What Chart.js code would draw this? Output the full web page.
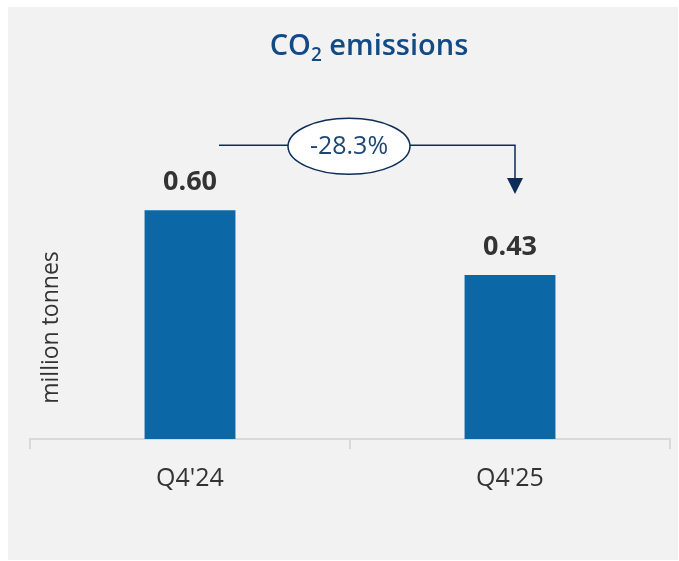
<!DOCTYPE html>
<html>
<head>
<meta charset="utf-8">
<script src="https://cdn.jsdelivr.net/npm/chart.js@4"></script>
<style>
  html, body { margin: 0; padding: 0; background: #ffffff; }
  #wrap { width: 679px; height: 561px; position: relative; }
</style>
</head>
<body>
<div id="wrap"><canvas id="c" width="679" height="561"></canvas></div>
<script>
const categories = ["Q4'24", "Q4'25"];
const emissions = [0.60, 0.43];
const valueLabels = ["0.60", "0.43"];
const changeLabel = "-28.3%";
const yAxisTitle = "million tonnes";
const titleMain = "CO";
const titleSub = "2";
const titleRest = " emissions";

const FONT = "'Open Sans', 'Noto Sans', sans-serif";

const decorPlugin = {
  id: 'decor',
  beforeDraw(chart) {
    const ctx = chart.ctx;
    ctx.save();
    ctx.fillStyle = '#f2f2f2';
    ctx.fillRect(8, 7, 670, 553);
    ctx.restore();
  },
  afterDraw(chart) {
    const ctx = chart.ctx;
    const area = chart.chartArea;
    const meta = chart.getDatasetMeta(0);
    const b1 = meta.data[0], b2 = meta.data[1];
    ctx.save();

    // Title
    ctx.fillStyle = '#114a86';
    ctx.textBaseline = 'alphabetic';
    ctx.font = `600 29px ${FONT}`;
    const wMain = ctx.measureText(titleMain).width;
    const wRest = ctx.measureText(titleRest).width;
    ctx.font = `600 19px ${FONT}`;
    const wSub = ctx.measureText(titleSub).width;
    const totalW = wMain + wSub + wRest;
    const cx = (area.left + area.right) / 2 + 19;
    let x = cx - totalW / 2;
    const base = 55;
    ctx.textAlign = 'left';
    ctx.font = `600 29px ${FONT}`;
    ctx.fillText(titleMain, x, base);
    x += wMain;
    ctx.font = `600 19px ${FONT}`;
    ctx.fillText(titleSub, x, base + 6);
    x += wSub;
    ctx.font = `600 29px ${FONT}`;
    ctx.fillText(titleRest, x, base);

    // Value labels
    ctx.fillStyle = '#333333';
    ctx.font = `bold 27px ${FONT}`;
    ctx.textAlign = 'center';
    ctx.textBaseline = 'middle';
    meta.data.forEach((bar, i) => {
      ctx.fillText(valueLabels[i], bar.x, bar.y - 28);
    });

    // Y axis title
    ctx.save();
    ctx.translate(51, (area.top + area.bottom) / 2 + 60);
    ctx.rotate(-Math.PI / 2);
    ctx.font = `23px ${FONT}`;
    ctx.fillStyle = '#333333';
    ctx.textAlign = 'center';
    ctx.textBaseline = 'middle';
    ctx.fillText(yAxisTitle, 0, 0);
    ctx.restore();

    // Change arrow
    const lineY = b1.y - 65;
    const x0 = b1.x + 29;
    const x1 = b2.x + 5;
    const tipY = b2.y - 81;
    ctx.strokeStyle = '#0d2c57';
    ctx.lineWidth = 1.5;
    ctx.beginPath();
    ctx.moveTo(x0, lineY);
    ctx.lineTo(x1, lineY);
    ctx.lineTo(x1, tipY - 14);
    ctx.stroke();
    ctx.fillStyle = '#0d2c57';
    ctx.beginPath();
    ctx.moveTo(x1 - 8, tipY - 16);
    ctx.lineTo(x1 + 8, tipY - 16);
    ctx.lineTo(x1, tipY);
    ctx.closePath();
    ctx.fill();

    // Ellipse
    const ex = (b1.x + b2.x) / 2 - 1;
    ctx.beginPath();
    ctx.ellipse(ex, lineY + 1, 61, 28, 0, 0, Math.PI * 2);
    ctx.fillStyle = '#ffffff';
    ctx.fill();
    ctx.lineWidth = 1.5;
    ctx.strokeStyle = '#0d2c57';
    ctx.stroke();
    ctx.fillStyle = '#1c4775';
    ctx.font = `25px ${FONT}`;
    ctx.textAlign = 'center';
    ctx.textBaseline = 'middle';
    ctx.fillText(changeLabel, ex, lineY + 2);

    ctx.restore();
  }
};

new Chart(document.getElementById('c'), {
  type: 'bar',
  data: {
    labels: categories,
    datasets: [{
      data: emissions,
      backgroundColor: '#0b67a5',
      borderWidth: 0,
      barPercentage: 0.284,
      categoryPercentage: 1.0
    }]
  },
  options: {
    responsive: false,
    animation: false,
    devicePixelRatio: 1,
    layout: { padding: { left: 30, right: 9, top: 96, bottom: 52 } },
    plugins: { legend: { display: false }, tooltip: { enabled: false }, title: { display: false } },
    scales: {
      y: { display: false, min: 0, max: 0.9 },
      x: {
        offset: true,
        grid: {
          offset: true,
          drawOnChartArea: false,
          drawTicks: true,
          tickLength: 10,
          color: '#d9d9d9',
          lineWidth: 2
        },
        border: { display: true, color: '#d9d9d9', width: 2 },
        ticks: {
          color: '#333333',
          font: { family: FONT, size: 25 },
          padding: 15
        }
      }
    }
  },
  plugins: [decorPlugin]
});
</script>
</body>
</html>
